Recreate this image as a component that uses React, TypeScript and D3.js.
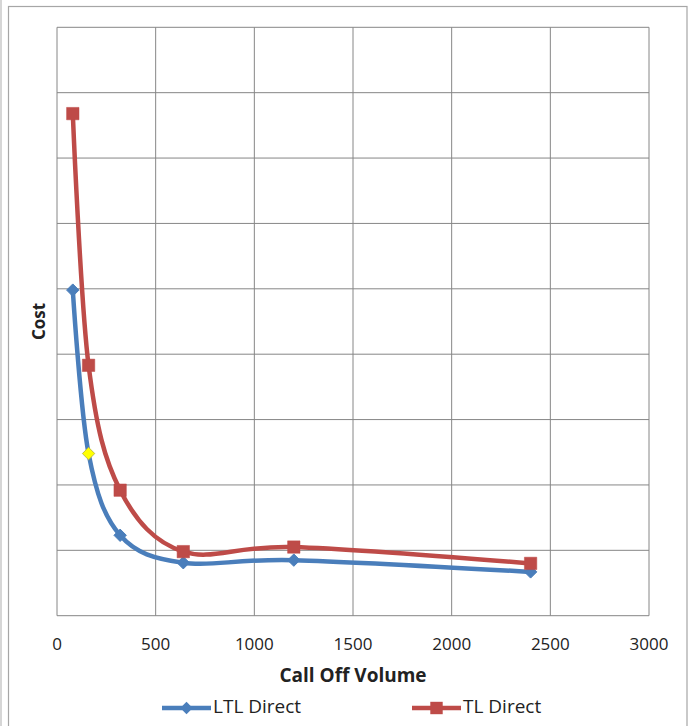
import React, { useEffect, useRef } from 'react';
import * as d3 from 'd3';

const volumes = [80, 160, 320, 640, 1200, 2400];
const ltlDirect = [4.98, 2.48, 1.23, 0.81, 0.85, 0.67];
const tlDirect = [7.68, 3.83, 1.92, 0.98, 1.05, 0.8];
const xTicks = [0, 500, 1000, 1500, 2000, 2500, 3000];
const yGrid = [0, 1, 2, 3, 4, 5, 6, 7, 8, 9];
const highlightIndex = 1;

const BLUE = '#4a7ebb';
const RED = '#be4b48';
const GRID = '#868686';
const FONT = 'Open Sans, Noto Sans, sans-serif';

const App = () => {
  const ref = useRef<SVGSVGElement | null>(null);

  useEffect(() => {
    const svg = d3.select(ref.current);
    svg.selectAll('*').remove();

    const left = 57, right = 649, top = 27.3, bottom = 615.7;
    const x = d3.scaleLinear().domain([0, 3000]).range([left, right]);
    const y = d3.scaleLinear().domain([0, 9]).range([bottom, top]);

    svg.append('rect').attr('width', 690).attr('height', 726).attr('fill', '#fff');
    // outer chart frame
    svg.append('line').attr('x1', 1).attr('x2', 1).attr('y1', 0).attr('y2', 726)
      .attr('stroke', '#c8c8c8').attr('stroke-width', 1.5);
    svg.append('rect').attr('x', 8.5).attr('y', 6.5).attr('width', 678.5).attr('height', 730)
      .attr('fill', 'none').attr('stroke', '#a6a6a6').attr('stroke-width', 1.2);

    // grid
    const g = svg.append('g');
    g.selectAll('.vg').data(xTicks).enter().append('line')
      .attr('x1', d => x(d)).attr('x2', d => x(d)).attr('y1', top).attr('y2', bottom)
      .attr('stroke', GRID).attr('stroke-width', 1);
    g.selectAll('.hg').data(yGrid).enter().append('line')
      .attr('x1', left).attr('x2', right).attr('y1', d => y(d)).attr('y2', d => y(d))
      .attr('stroke', GRID).attr('stroke-width', 1);

    // tick labels
    svg.selectAll('.xt').data(xTicks).enter().append('text')
      .attr('x', d => x(d)).attr('y', 645).attr('text-anchor', 'middle')
      .attr('dominant-baseline', 'middle')
      .attr('font-family', FONT).attr('font-size', 17).attr('fill', '#222')
      .text(d => d);

    svg.append('text').attr('x', x(1500)).attr('y', 677)
      .attr('text-anchor', 'middle').attr('dominant-baseline', 'middle')
      .attr('font-family', FONT).attr('font-size', 19).attr('font-weight', 'bold').attr('fill', '#222')
      .text('Call Off Volume');

    svg.append('text').attr('transform', `translate(40,${(top + bottom) / 2}) rotate(-90)`)
      .attr('text-anchor', 'middle').attr('dominant-baseline', 'middle')
      .attr('font-family', FONT).attr('font-size', 17).attr('font-weight', 'bold').attr('fill', '#222')
      .text('Cost');

    const line = d3.line<number>()
      .x((_, i) => x(volumes[i]))
      .y(d => y(d))
      .curve(d3.curveCatmullRom.alpha(0));

    const diamond = d3.symbol().type(d3.symbolDiamond2).size(98);
    const square = d3.symbol().type(d3.symbolSquare2).size(196);

    svg.append('path').datum(ltlDirect).attr('d', line)
      .attr('fill', 'none').attr('stroke', BLUE).attr('stroke-width', 4.5);
    svg.append('path').datum(tlDirect).attr('d', line)
      .attr('fill', 'none').attr('stroke', RED).attr('stroke-width', 4.5);

    svg.selectAll('.ltl').data(ltlDirect).enter().append('path')
      .attr('d', diamond)
      .attr('transform', (d, i) => `translate(${x(volumes[i])},${y(d)})`)
      .attr('fill', (_, i) => (i === highlightIndex ? '#ffff00' : BLUE))
      .attr('stroke', (_, i) => (i === highlightIndex ? '#c0c040' : BLUE))
      .attr('stroke-width', 1);

    svg.selectAll('.tl').data(tlDirect).enter().append('path')
      .attr('d', square)
      .attr('transform', (d, i) => `translate(${x(volumes[i])},${y(d)})`)
      .attr('fill', RED).attr('stroke', RED).attr('stroke-width', 0.5);

    // legend
    const legend = [
      { name: 'LTL Direct', color: BLUE, sym: diamond, x0: 162 },
      { name: 'TL Direct', color: RED, sym: square, x0: 412 },
    ];
    const lg = svg.selectAll('.lg').data(legend).enter().append('g')
      .attr('transform', d => `translate(${d.x0},708)`);
    lg.append('line').attr('x1', 0).attr('x2', 49).attr('y1', 0).attr('y2', 0)
      .attr('stroke', d => d.color).attr('stroke-width', 4.5);
    lg.append('path').attr('d', d => d.sym()).attr('transform', 'translate(24.5,0)')
      .attr('fill', d => d.color);
    lg.append('text').attr('x', 51).attr('y', 0).attr('dominant-baseline', 'middle')
      .attr('font-family', FONT).attr('font-size', 19).attr('fill', '#222')
      .text(d => d.name);
  }, []);

  return (
    <svg ref={ref} width={690} height={726}
      style={{ position: 'absolute', left: 0, top: 0, display: 'block' }} />
  );
};

export default App;
